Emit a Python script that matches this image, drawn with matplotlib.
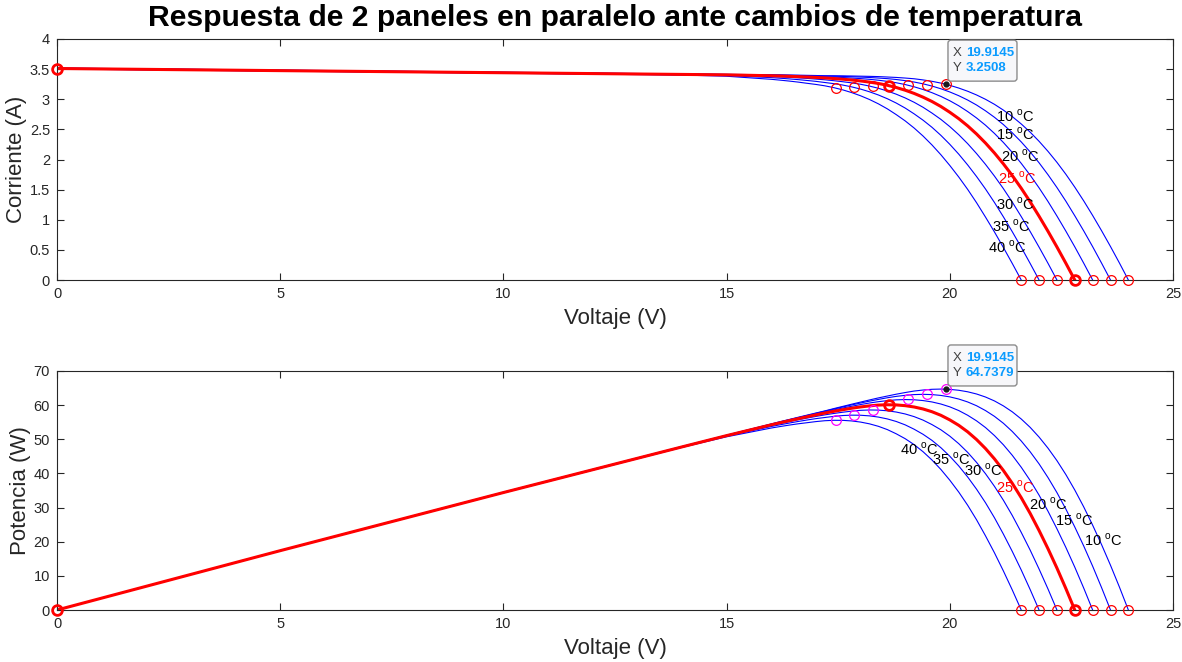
import matplotlib
matplotlib.use('Agg')
import numpy as np
import matplotlib.pyplot as plt
from matplotlib.patches import FancyBboxPatch
from matplotlib.transforms import IdentityTransform

plt.rcParams['font.family'] = ['Liberation Sans', 'DejaVu Sans']
plt.rcParams['mathtext.fontset'] = 'custom'
plt.rcParams['mathtext.rm'] = 'Liberation Sans'

# temperatures (C)
temps = [10, 15, 20, 25, 30, 35, 40]

# voltage grid (V): start of the curve, then the knee region
v_head = [0, 5, 10, 14, 15]
v_knee = [16.0, 16.2, 16.4, 16.6, 16.8, 17.0, 17.2, 17.4, 17.6, 17.8,
          18.0, 18.2, 18.4, 18.6, 18.8, 19.0, 19.2, 19.4, 19.6, 19.8,
          20.0, 20.2, 20.4, 20.6, 20.8, 21.0, 21.2, 21.4, 21.6, 21.8,
          22.0, 22.2, 22.4, 22.6, 22.8, 23.0, 23.2, 23.4, 23.6, 23.8, 24.0]

# current (A), one list per temperature
i_10 = [3.518, 3.484, 3.449, 3.420, 3.413,
        3.406, 3.405, 3.402, 3.400, 3.397, 3.394, 3.390, 3.390, 3.388, 3.386,
        3.383, 3.380, 3.376, 3.369, 3.362, 3.352, 3.340, 3.321, 3.298, 3.268,
        3.231, 3.186, 3.133, 3.071, 2.999, 2.916, 2.820, 2.712, 2.590, 2.454,
        2.302, 2.135, 1.953, 1.755, 1.541, 1.313, 1.071, 0.818, 0.555, 0.282, 0.0]
i_15 = [3.516, 3.481, 3.446, 3.418, 3.411,
        3.402, 3.400, 3.397, 3.394, 3.390, 3.388, 3.386, 3.382, 3.379, 3.374,
        3.368, 3.361, 3.352, 3.342, 3.328, 3.309, 3.286, 3.256, 3.219, 3.174,
        3.121, 3.059, 2.987, 2.904, 2.808, 2.701, 2.580, 2.443, 2.292, 2.126,
        1.945, 1.747, 1.535, 1.308, 1.066, 0.815, 0.553, 0.280, 0.0]
i_20 = [3.513, 3.478, 3.443, 3.415, 3.408,
        3.397, 3.394, 3.390, 3.387, 3.383, 3.379, 3.374, 3.368, 3.361, 3.352,
        3.343, 3.331, 3.316, 3.297, 3.274, 3.244, 3.207, 3.162, 3.109, 3.047,
        2.975, 2.892, 2.796, 2.689, 2.569, 2.433, 2.283, 2.117, 1.936, 1.740,
        1.529, 1.303, 1.062, 0.811, 0.550, 0.279, 0.0]
i_25 = [3.510, 3.475, 3.440, 3.412, 3.405,
        3.390, 3.386, 3.381, 3.375, 3.369, 3.362, 3.354, 3.344, 3.333, 3.320,
        3.304, 3.285, 3.262, 3.232, 3.195, 3.150, 3.097, 3.035, 2.963, 2.880,
        2.784, 2.678, 2.558, 2.423, 2.273, 2.108, 1.928, 1.733, 1.523, 1.298,
        1.058, 0.808, 0.548, 0.278, 0.0]
i_30 = [3.507, 3.472, 3.437, 3.409, 3.400,
        3.378, 3.371, 3.364, 3.356, 3.346, 3.335, 3.323, 3.308, 3.291, 3.272,
        3.249, 3.219, 3.182, 3.137, 3.084, 3.022, 2.950, 2.867, 2.771, 2.666,
        2.546, 2.412, 2.263, 2.098, 1.919, 1.725, 1.517, 1.293, 1.053, 0.805,
        0.545, 0.277, 0.0]
i_35 = [3.505, 3.470, 3.435, 3.406, 3.394,
        3.359, 3.349, 3.338, 3.326, 3.312, 3.297, 3.278, 3.259, 3.236, 3.206,
        3.169, 3.124, 3.071, 3.009, 2.937, 2.854, 2.758, 2.653, 2.535, 2.401,
        2.252, 2.089, 1.910, 1.717, 1.510, 1.287, 1.049, 0.801, 0.543, 0.275, 0.0]
i_40 = [3.502, 3.467, 3.432, 3.402, 3.382,
        3.331, 3.317, 3.302, 3.285, 3.265, 3.246, 3.223, 3.193, 3.156, 3.111,
        3.058, 2.996, 2.924, 2.841, 2.745, 2.641, 2.523, 2.390, 2.242, 2.079,
        1.901, 1.710, 1.504, 1.282, 1.044, 0.798, 0.540, 0.274, 0.0]
currents = [i_10, i_15, i_20, i_25, i_30, i_35, i_40]

# maximum power points
mpp_v = [19.9145, 19.48, 19.07, 18.64, 18.27, 17.86, 17.45]
mpp_i = [3.2508, 3.243, 3.235, 3.225, 3.213, 3.200, 3.185]
mpp_p = [64.7379, 63.17, 61.69, 60.11, 58.70, 57.15, 55.58]

# label anchors (V, value) for each temperature
lab_top_v = [21.03, 21.03, 21.15, 21.08, 21.03, 20.95, 20.86]
lab_top_i = [2.72, 2.42, 2.06, 1.69, 1.26, 0.90, 0.55]
lab_bot_v = [23.0, 22.36, 21.77, 21.03, 20.32, 19.60, 18.88]
lab_bot_p = [20.5, 26.4, 31.0, 36.0, 41.0, 44.2, 47.2]

AX_COL = '#262626'
TIP_BLUE = '#0A9BFF'

fig = plt.figure(figsize=(11.82, 6.62), dpi=100)
ax1 = fig.add_axes([57/1182, 1-280/662, 1116/1182, 241/662])
ax2 = fig.add_axes([57/1182, 1-610/662, 1116/1182, 239/662])


def volts(cur):
    return np.array(v_head + v_knee[:len(cur) - len(v_head)])


for t, cur in zip(temps, currents):
    v = volts(cur)
    c = np.array(cur)
    ax1.plot(v, c, color='b', lw=0.8)
    ax2.plot(v, v * c, color='b', lw=0.8)

# 25 C highlighted
v25 = volts(i_25)
c25 = np.array(i_25)
ax1.plot(v25, c25, color='r', lw=2.2)
ax2.plot(v25, v25 * c25, color='r', lw=2.2)

for idx, (t, cur) in enumerate(zip(temps, currents)):
    voc = volts(cur)[-1]
    bold = (t == 25)
    mew = 2.0 if bold else 0.9
    # open circuit voltage
    ax1.plot(voc, 0, 'o', mfc='none', mec='r', ms=7, mew=mew, clip_on=False, zorder=5)
    ax2.plot(voc, 0, 'o', mfc='none', mec='r', ms=7, mew=mew, clip_on=False, zorder=5)
    # max power point
    ax1.plot(mpp_v[idx], mpp_i[idx], 'o', mfc='none', mec='r', ms=7, mew=mew, zorder=5)
    ax2.plot(mpp_v[idx], mpp_p[idx], 'o', mfc='none', mec='r' if bold else '#FF00FF',
             ms=7, mew=mew, zorder=5)
    col = 'r' if bold else 'black'
    ax1.text(lab_top_v[idx], lab_top_i[idx], '%d $^{\\rm o}$C' % t, color=col,
             fontsize=10.5, ha='left', va='center')
    ax2.text(lab_bot_v[idx], lab_bot_p[idx], '%d $^{\\rm o}$C' % t, color=col,
             fontsize=10.5, ha='left', va='center')

# start points
ax1.plot(0, i_25[0], 'o', mfc='none', mec='r', ms=7, mew=2.0, clip_on=False, zorder=5)
ax2.plot(0, 0, 'o', mfc='none', mec='r', ms=7, mew=2.0, clip_on=False, zorder=5)

for ax in (ax1, ax2):
    ax.set_xlim(0, 25)
    ax.set_xticks([0, 5, 10, 15, 20, 25])
    ax.tick_params(direction='in', top=True, right=True, length=5, width=0.8,
                   colors=AX_COL, labelsize=10.5, pad=5)
    for s in ax.spines.values():
        s.set_color(AX_COL)
        s.set_linewidth(0.8)
    ax.set_xlabel('Voltaje (V)', fontsize=16, color=AX_COL, labelpad=5)

ax1.set_ylim(0, 4)
ax1.set_yticks([0, 0.5, 1, 1.5, 2, 2.5, 3, 3.5, 4])
ax1.set_yticklabels(['0', '0.5', '1', '1.5', '2', '2.5', '3', '3.5', '4'])
ax1.set_ylabel('Corriente (A)', fontsize=16, color=AX_COL, labelpad=2)
ax2.set_ylim(0, 70)
ax2.set_yticks([0, 10, 20, 30, 40, 50, 60, 70])
ax2.set_ylabel('Potencia (W)', fontsize=16, color=AX_COL, labelpad=2)


# data tips on the 10 C curve, placed in pixels next to the point
def datatip(ax, x, y, ytxt):
    ax.plot(x, y, 'o', color='#1a1a1a', ms=3.5, zorder=7)
    px, py = ax.transData.transform((x, y))
    box = FancyBboxPatch((px + 2, py + 3), 69, 41, boxstyle='round,pad=0,rounding_size=3',
                         transform=IdentityTransform(), fc='#F7F7FA', ec='#8C8C8C', lw=1.0,
                         zorder=8, clip_on=False)
    fig.add_artist(box)
    for dy, lab, val in ((31, 'X', '19.9145'), (16, 'Y', ytxt)):
        fig.text(px + 7, py + dy, lab, transform=IdentityTransform(), fontsize=9.5,
                 color='#404040', ha='left', va='center', zorder=9)
        fig.text(px + 20, py + dy, val, transform=IdentityTransform(), fontsize=9.5,
                 fontweight='bold', color=TIP_BLUE, ha='left', va='center', zorder=9)


datatip(ax1, mpp_v[0], mpp_i[0], '3.2508')
datatip(ax2, mpp_v[0], mpp_p[0], '64.7379')

fig.text(615/1182, 1-18/662, 'Respuesta de 2 paneles en paralelo ante cambios de temperatura',
         ha='center', va='center', fontsize=21.7, fontweight='bold')

fig.savefig('out.png', dpi=100)
